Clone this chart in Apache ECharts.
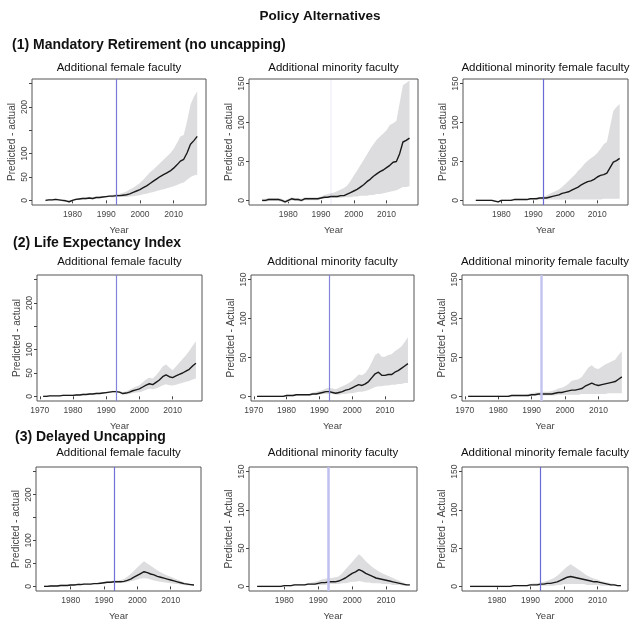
<!DOCTYPE html>
<html><head><meta charset="utf-8">
<script src="https://cdn.jsdelivr.net/npm/echarts@6/dist/echarts.min.js"></script>
<style>html,body{margin:0;padding:0;background:#fff}#c{width:630px;height:622px}</style>
</head><body><div id="c"></div>
<script>
// ---------------- DATA ----------------
const YEARS_A = [1972,1973,1974,1975,1976,1977,1978,1979,1980,1981,1982,1983,1984,1985,1986,1987,1988,1989,1990,1991,1992,1993,1994,1995,1996,1997,1998,1999,2000,2001,2002,2003,2004,2005,2006,2007,2008,2009,2010,2011,2012,2013,2014,2015,2016,2017];
const YEARS_B = [1971,1972,1973,1974,1975,1976,1977,1978,1979,1980,1981,1982,1983,1984,1985,1986,1987,1988,1989,1990,1991,1992,1993,1994,1995,1996,1997,1998,1999,2000,2001,2002,2003,2004,2005,2006,2007,2008,2009,2010,2011,2012,2013,2014,2015,2016,2017];

const X_TICKS_A = [1980,1990,2000,2010];
const X_TICKS_B = [1970,1980,1990,2000,2010];
const Y_TICKS_FEM = [0,50,100,150,200,250];
const Y_LABELS_FEM = [0,50,100,200];
const Y_TICKS_MIN = [0,50,100,150];
const Y_LABELS_MIN = [0,50,100,150];
const POLICY_YEAR = 1993;

const MAIN_TITLE = 'Policy Alternatives';
const SECTIONS = ['(1) Mandatory Retirement (no uncapping)','(2) Life Expectancy Index','(3) Delayed Uncapping'];
const PANEL_TITLES = ['Additional female faculty','Additional minority faculty','Additional minority female faculty'];
const Y_NAMES = [
  ['Predicted - actual','Predicted - actual','Predicted - actual'],
  ['Predicted - actual','Predicted - Actual','Predicted - Actual'],
  ['Predicted - actual','Predicted - Actual','Predicted - Actual']
];

// (1) Mandatory retirement, 1972-2017
const MR_FEM_MEAN = [0,1,1,2,1,0,-1,-3, 0,2,3,4,4,5,4,6,6,7, 8,9,9,10,10,11,12,14,17,20, 23,27,31,36,41,46,51,55,59,63, 69,76,84,88,102,120,128,137];
const MR_FEM_HI   = [2,3,3,4,3,2,1,-1, 2,4,5,6,6,7,6,8,8,9, 10,11,12,13,14,16,19,23,27,32, 37,44,52,60,66,73,80,87,94,101, 110,123,137,140,170,205,222,233];
const MR_FEM_LO   = [-2,-1,-1,0,-1,-2,-3,-5, -2,0,1,2,2,3,2,4,4,5, 6,7,6,7,7,7,7,8,9,10, 11,13,14,16,18,20,22,24,26,28, 30,33,36,38,44,50,53,55];

const MR_MIN_MEAN = [0,0,1,1,1,1,0,-2, 0,2,1,1,0,2,2,2,2,2, 3,4,4,5,5,5,6,6,8,10, 12,14,17,20,24,27,31,34,37,39, 42,45,49,50,60,75,77,80];
const MR_MIN_HI   = [2,2,3,3,3,3,2,0, 2,4,3,3,2,4,4,4,4,4, 5,7,8,9,10,12,14,16,19,25, 32,38,45,52,59,66,72,78,82,86, 90,97,99,102,125,148,151,154];
const MR_MIN_LO   = [-2,-2,-1,-1,-1,-1,-2,-4, -2,0,-1,-1,-2,0,0,0,0,0, 2,2,3,3,3,3,3,4,4,4, 5,5,6,6,6,7,7,8,8,9, 10,11,12,13,15,17,17,18];

const MR_MINFEM_MEAN = [0,0,0,0,0,0,-1,-2, 0,0,0,0,1,1,1,1,1,2, 2,2,3,3,3,4,5,6,7,9, 10,11,13,15,17,20,22,24,25,27, 30,32,33,35,42,49,51,54];
const MR_MINFEM_HI   = [1,1,1,1,1,1,0,-1, 1,1,1,1,2,2,2,2,2,3, 3,4,4,5,6,8,10,12,14,17, 21,25,29,33,38,42,47,51,54,57, 61,66,72,75,95,115,120,124];
const MR_MINFEM_LO   = [-1,-1,-1,-1,-1,-1,-2,-3, -1,-1,-1,-1,0,0,0,0,0,1, 1,1,1,1,1,1,1,1,1,1, 1,1,1,1,1,1,1,1,1,1, 1,1,2,2,2,2,2,2];

// (2) Life expectancy index, 1971-2017
const LE_FEM_MEAN = [0,0,1,1,1,1,2,2,2, 2,3,3,4,4,5,5,6,6,7, 8,9,10,10,9,6,7,9,12,14, 16,20,24,27,25,30,35,42,46,42, 40,44,47,50,54,58,65,71];
const LE_FEM_HI   = [2,2,3,3,3,3,4,4,4, 4,5,5,6,6,7,7,8,8,9, 10,11,12,12,11,9,11,14,18,21, 24,30,36,40,38,45,54,64,68,62, 56,64,72,80,88,97,108,118];
const LE_FEM_LO   = [-1,-1,0,0,0,0,1,1,1, 1,2,2,3,3,4,4,5,5,6, 6,7,8,8,7,4,4,5,7,8, 9,11,14,16,15,17,20,24,26,24, 23,25,27,29,31,33,36,38];

const LE_MIN_MEAN = [0,0,0,0,0,0,0,0,0, 1,1,1,2,2,2,2,2,3,3, 4,5,6,6,5,4,5,6,8,9, 11,13,15,14,16,19,24,29,31,27, 27,28,28,31,33,36,39,42];
const LE_MIN_HI   = [1,1,1,1,1,1,1,1,1, 2,2,2,3,3,3,3,3,5,6, 7,8,10,11,10,9,11,13,15,17, 20,24,28,27,30,36,44,53,56,51, 51,53,54,58,61,64,70,76];
const LE_MIN_LO   = [-1,-1,-1,-1,-1,-1,-1,-1,-1, 0,0,0,1,1,1,1,1,2,2, 2,3,3,3,3,2,2,3,3,4, 4,5,6,6,7,8,10,12,13,13, 14,14,15,15,16,16,17,17];

const LE_MINFEM_MEAN = [0,0,0,0,0,0,0,0,0, 0,0,0,0,1,1,1,1,1,1, 2,2,3,3,3,3,3,4,5,5, 6,7,8,8,9,10,13,15,17,15, 14,15,16,17,18,19,22,25];
const LE_MINFEM_HI   = [1,1,1,1,1,1,1,1,1, 1,1,1,1,2,2,2,2,2,3, 4,5,5,6,6,6,7,8,10,11, 13,16,20,21,22,25,31,37,40,36, 35,38,41,43,45,47,53,58];
const LE_MINFEM_LO   = [-1,-1,-1,-1,-1,-1,-1,-1,-1, -1,-1,-1,-1,0,0,0,0,0,0, 1,1,1,1,1,1,1,1,2,2, 2,2,2,2,2,3,3,3,3,3, 3,3,3,4,4,4,4,4];

// (3) Delayed uncapping, 1972-2017
const DU_FEM_MEAN = [0,0,1,1,1,2,2,2, 3,3,4,4,5,5,5,6,6,7, 8,9,9,10,10,10,11,13,16,20, 24,28,32,30,27,25,22,20,18,16, 14,12,10,8,6,5,4,3];
const DU_FEM_HI   = [2,2,3,3,3,4,4,4, 5,5,6,6,7,7,7,8,8,9, 10,11,12,13,13,14,16,21,27,34, 41,48,55,50,45,40,35,31,27,24, 21,18,15,12,9,7,5,4];
const DU_FEM_LO   = [-1,-1,0,0,0,1,1,1, 2,2,3,3,4,4,4,5,5,6, 6,7,7,8,8,8,8,9,11,13, 15,17,18,17,15,13,11,10,9,8, 7,6,5,4,3,2,2,1];

const DU_MIN_MEAN = [0,0,0,0,0,0,0,0, 1,1,1,2,2,2,2,3,3,3, 4,5,5,6,6,6,7,9,11,14, 17,19,22,20,17,15,13,11,10,9, 8,7,6,5,4,3,2,2];
const DU_MIN_HI   = [1,1,1,1,1,1,1,1, 2,2,2,3,3,3,3,4,5,6, 7,9,10,11,11,12,13,17,22,27, 32,37,42,38,33,29,25,22,19,17, 15,13,11,9,7,5,3,2];
const DU_MIN_LO   = [-1,-1,-1,-1,-1,-1,-1,-1, 0,0,0,1,1,1,1,2,2,2, 2,2,2,3,3,3,3,4,4,5, 6,6,7,6,5,5,4,4,4,3, 3,3,2,2,2,1,1,1];

const DU_MINFEM_MEAN = [0,0,0,0,0,0,0,0, 0,0,0,0,0,1,1,1,1,1, 2,2,2,3,3,4,4,5,6,8, 10,12,13,12,11,10,9,8,7,6, 6,5,4,3,2,2,1,1];
const DU_MINFEM_HI   = [1,1,1,1,1,1,1,1, 1,1,1,1,1,2,2,2,2,2, 3,4,4,5,6,7,9,11,14,18, 22,26,29,26,23,20,17,14,12,10, 9,7,6,5,4,3,2,1];
const DU_MINFEM_LO   = [-1,-1,-1,-1,-1,-1,-1,-1, -1,-1,-1,-1,-1,0,0,0,0,0, 1,1,1,1,1,1,1,1,2,2, 3,3,3,3,3,3,3,2,2,2, 2,1,1,1,1,1,0,0];

// ---------------- LAYOUT / STYLE ----------------
const FONT = 'Liberation Sans, Arial, Helvetica, sans-serif';
const ROW_TOP = [79, 275, 467];
const ROW_H = 126;
const ROW_XRANGE = [[1968, 2019.6], [1969.16, 2018.84], [1969.6, 2019.1]];
const BOX_LR = [
  [[32,206],[249,418],[463,628]],
  [[37,202],[251,414],[462,628]],
  [[36,201],[249,417],[462,628]]
];
const TITLE_Y = [68, 262, 453];
const VLINE = [
  [{c:'#7a7ad8',w:1.2},{c:'rgba(120,120,230,0.08)',w:2},{c:'#6a6ad6',w:1.2}],
  [{c:'#8484da',w:1.2},{c:'#8484da',w:1.2},{c:'#c4c4f0',w:2.5}],
  [{c:'#7070d6',w:1.2},{c:'#bfbff0',w:2.5},{c:'#6a6ad6',w:1.2}]
];

const panels = [
  [ {years:YEARS_A, m:MR_FEM_MEAN, lo:MR_FEM_LO, hi:MR_FEM_HI, fem:true},
    {years:YEARS_A, m:MR_MIN_MEAN, lo:MR_MIN_LO, hi:MR_MIN_HI, fem:false},
    {years:YEARS_A, m:MR_MINFEM_MEAN, lo:MR_MINFEM_LO, hi:MR_MINFEM_HI, fem:false} ],
  [ {years:YEARS_B, m:LE_FEM_MEAN, lo:LE_FEM_LO, hi:LE_FEM_HI, fem:true},
    {years:YEARS_B, m:LE_MIN_MEAN, lo:LE_MIN_LO, hi:LE_MIN_HI, fem:false},
    {years:YEARS_B, m:LE_MINFEM_MEAN, lo:LE_MINFEM_LO, hi:LE_MINFEM_HI, fem:false} ],
  [ {years:YEARS_A, m:DU_FEM_MEAN, lo:DU_FEM_LO, hi:DU_FEM_HI, fem:true},
    {years:YEARS_A, m:DU_MIN_MEAN, lo:DU_MIN_LO, hi:DU_MIN_HI, fem:false},
    {years:YEARS_A, m:DU_MINFEM_MEAN, lo:DU_MINFEM_LO, hi:DU_MINFEM_HI, fem:false} ]
];

const grids = [], xAxes = [], yAxes = [], series = [], graphics = [];
const AX = '#444', LBL = '#444';

function txt(x, y, s, font, align) {
  return {type:'text', x:x, y:y, style:{text:s, fill:'#111', font:font, align:align, verticalAlign:'middle', textAlign:align, textVerticalAlign:'middle'}};
}
graphics.push(txt(320, 16, MAIN_TITLE, 'bold 13.5px '+FONT, 'center'));
const SEC_POS = [[12,45],[13,243],[15,437]];
SECTIONS.forEach((s,i)=>graphics.push(txt(SEC_POS[i][0], SEC_POS[i][1], s, 'bold 14px '+FONT, 'left')));

let gi = 0;
for (let r=0;r<3;r++){
  for (let c=0;c<3;c++){
    const p = panels[r][c];
    const ytop = p.fem ? 250 : 150;
    const ymin = -0.04*ytop, ymax = ytop*1.04;
    const L = BOX_LR[r][c][0], W = BOX_LR[r][c][1]-L;
    grids.push({left:L, top:ROW_TOP[r], width:W, height:ROW_H, show:true, borderColor:'#555', borderWidth:1, backgroundColor:'transparent'});
    const xt = (r===1) ? X_TICKS_B : X_TICKS_A;
    xAxes.push({type:'value', gridIndex:gi, min:ROW_XRANGE[r][0], max:ROW_XRANGE[r][1],
      axisLine:{show:false}, splitLine:{show:false},
      axisTick:{show:true, customValues:xt, length:3, lineStyle:{color:AX}},
      axisLabel:{show:true, customValues:xt, margin:5, fontSize:8.5, color:LBL, fontFamily:FONT, formatter:function(v){return String(Math.round(v));}},
      name:'Year', nameLocation:'middle', nameGap:20, nameTextStyle:{fontSize:9.5, color:LBL, fontFamily:FONT}});
    const yt = p.fem ? Y_TICKS_FEM : Y_TICKS_MIN;
    const yl = p.fem ? Y_LABELS_FEM : Y_LABELS_MIN;
    yAxes.push({type:'value', gridIndex:gi, min:ymin, max:ymax,
      axisLine:{show:false}, splitLine:{show:false},
      axisTick:{show:true, customValues:yt, length:3, lineStyle:{color:AX}},
      axisLabel:{show:true, customValues:yl, rotate:90, margin:3, fontSize:8.5, color:LBL, fontFamily:FONT, formatter:function(v){return String(Math.round(v));}},
      name:Y_NAMES[r][c], nameLocation:'middle', nameGap:15, nameTextStyle:{fontSize:10, color:LBL, fontFamily:FONT}});
    const yrs = p.years, lo = p.lo, hi = p.hi;
    series.push({type:'custom', xAxisIndex:gi, yAxisIndex:gi, silent:true, data:[[yrs[0],0]],
      renderItem:function(params, api){
        const pts=[];
        for(let i=0;i<yrs.length;i++) pts.push(api.coord([yrs[i],hi[i]]));
        for(let i=yrs.length-1;i>=0;i--) pts.push(api.coord([yrs[i],lo[i]]));
        return {type:'polygon', shape:{points:pts}, style:{fill:'#dddddf', stroke:null}};
      }});
    const vl = VLINE[r][c];
    series.push({type:'line', xAxisIndex:gi, yAxisIndex:gi, silent:true, symbol:'none',
      data: yrs.map((y,i)=>[y,p.m[i]]),
      lineStyle:{color:'#1a1a1a', width:1.4},
      markLine:{symbol:'none', silent:true, animation:false, label:{show:false},
        emphasis:{disabled:true},
        lineStyle:{color:vl.c, width:vl.w, type:'solid', opacity:1}, data:[{xAxis:POLICY_YEAR}]}});
    graphics.push(txt(L+W/2, TITLE_Y[r], PANEL_TITLES[c], '11.5px '+FONT, 'center'));
    gi++;
  }
}

const chart = echarts.init(document.getElementById('c'), null, {renderer:'canvas'});
chart.setOption({animation:false, backgroundColor:'#fff', grid:grids, xAxis:xAxes, yAxis:yAxes, series:series, graphic:graphics});
</script></body></html>
